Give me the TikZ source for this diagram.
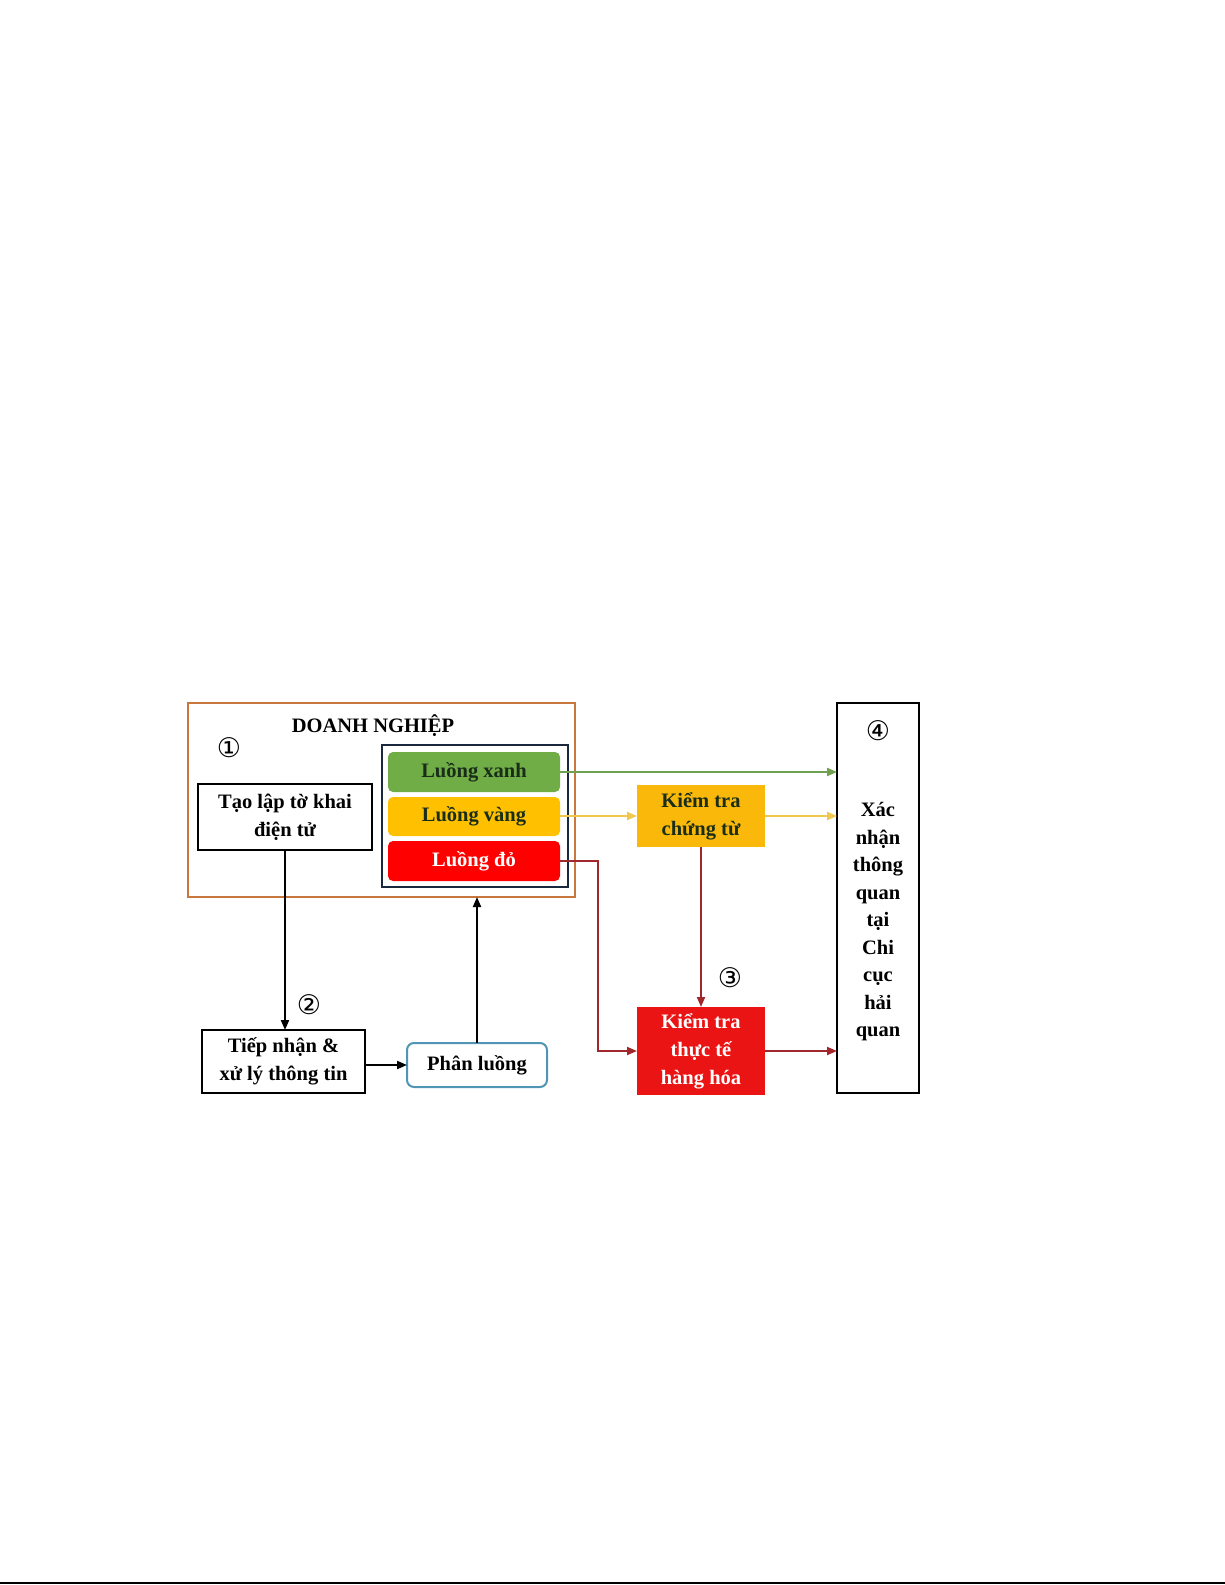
\documentclass[tikz,border=0pt]{standalone}
\usepackage{fontspec}
\setmainfont{Liberation Serif}
\newfontfamily\circfont{DejaVu Sans}
\usetikzlibrary{arrows.meta}
\definecolor{orangeb}{RGB}{200,120,60}
\definecolor{navyb}{RGB}{25,40,60}
\definecolor{greenf}{RGB}{112,173,71}
\definecolor{greent}{RGB}{25,45,25}
\definecolor{yellowf}{RGB}{255,192,0}
\definecolor{yellowk}{RGB}{250,185,10}
\definecolor{redf}{RGB}{255,0,0}
\definecolor{redk}{RGB}{235,20,20}
\definecolor{greena}{RGB}{112,160,80}
\definecolor{yellowa}{RGB}{240,200,80}
\definecolor{reda}{RGB}{160,40,45}
\definecolor{blueb}{RGB}{80,150,180}
\begin{document}
\begin{tikzpicture}[x=1pt,y=-1pt,
  every node/.style={inner sep=0pt,outer sep=0pt,font=\fontsize{20.5}{28}\selectfont\bfseries,align=center},
  plainbox/.style={draw=black,line width=1.5pt,fill=white},
  lane/.style={rounded corners=5pt,minimum width=172pt,minimum height=40pt},
  circnum/.style={font=\fontsize{27}{27}\selectfont\circfont},
  arr/.style={line width=2pt,-{Triangle[length=10pt,width=8pt]}}
]
\useasboundingbox (0,0) rectangle (1225,1585);
\draw[line width=2pt] (0,1583) -- (1225,1583);
% outer orange box
\node[draw=orangeb,line width=2pt,minimum width=387pt,minimum height=194pt] (dn) at (381.5,800) {};
\node (title) at (373,726) {DOANH NGHIỆP};
\node[circnum] (c1) at (229,748) {①};
\node[plainbox,minimum width=174pt,minimum height=66pt] (tao) at (285,817) {Tạo lập tờ khai\\điện tử};
\node[draw=navyb,line width=2.2pt,minimum width=186pt,minimum height=142pt] (cont) at (475,816) {};
\node[lane,fill=greenf,text=greent] (xanh) at (474,772) {Luồng xanh};
\node[lane,fill=yellowf,text=greent,minimum height=39pt] (vang) at (474,816.5) {Luồng vàng};
\node[lane,fill=redf,text=white] (do) at (474,861) {Luồng đỏ};
% right column
\node[fill=yellowk,text=greent,minimum width=128pt,minimum height=62pt] (ctu) at (701,816) {Kiểm tra\\chứng từ};
\node[fill=redk,text=white,minimum width=128pt,minimum height=88pt] (ttx) at (701,1051) {Kiểm tra\\thực tế\\hàng hóa};
\node[plainbox,minimum width=82pt,minimum height=390pt] (xn) at (878,898) {};
\node[circnum] (c4) at (878,731) {④};
\node[font=\fontsize{20.5}{27.5}\selectfont\bfseries] (xntext) at (878,922) {Xác\\nhận\\thông\\quan\\tại\\Chi\\cục\\hải\\quan};
% bottom row
\node[plainbox,minimum width=163pt,minimum height=63pt] (tiep) at (283.5,1061.5) {Tiếp nhận \&\\xử lý thông tin};
\node[draw=blueb,line width=2pt,rounded corners=7pt,fill=white,minimum width=140pt,minimum height=44pt] (phan) at (477,1065) {Phân luồng};
\node[circnum] (c2) at (309,1005) {②};
\node[circnum] (c3) at (730,978) {③};
% connectors
\draw[arr,greena] (xanh.east) -- (xanh.east -| xn.west);
\draw[arr,yellowa] (vang.east |- ctu.west) -- (ctu.west);
\draw[arr,yellowa] (ctu.east) -- (ctu.east -| xn.west);
\coordinate (rbend) at (598,861);
\draw[arr,reda] (do.east) -- (rbend) |- (ttx.west);
\draw[arr,reda] (ctu.south) -- (ttx.north);
\draw[arr,reda] (ttx.east) -- (ttx.east -| xn.west);
\draw[arr,black] (tao.south) -- (tao.south |- tiep.north);
\draw[arr,black] (phan.west -| tiep.east) -- (phan.west);
\draw[arr,black] (phan.north) -- (phan.north |- dn.south);
\end{tikzpicture}
\end{document}
